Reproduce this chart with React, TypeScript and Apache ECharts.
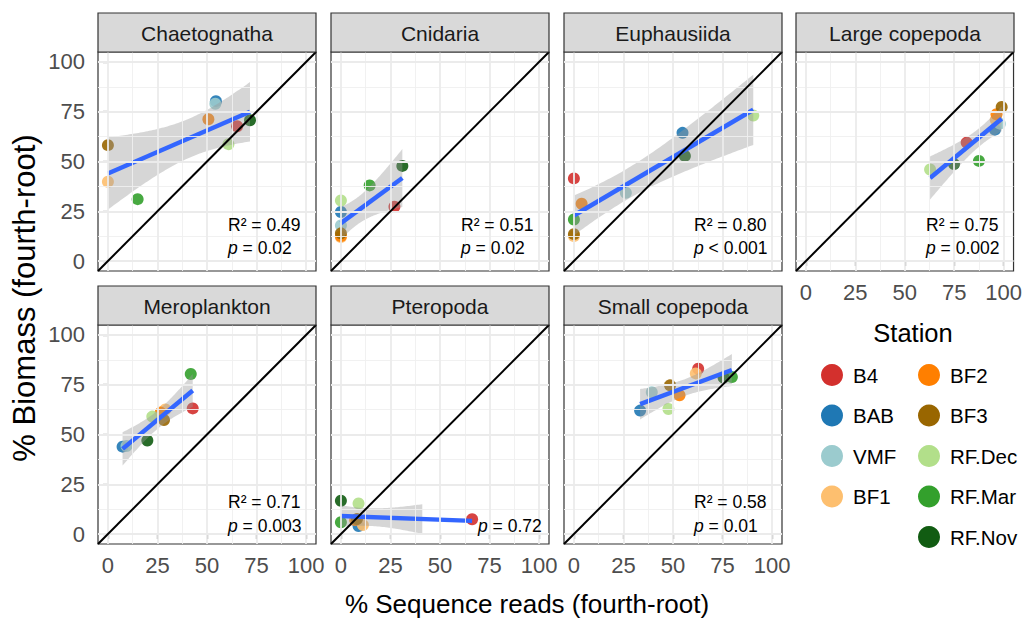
import React, { useEffect, useRef } from "react";
import * as echarts from "echarts";

// ---------- data ----------
const stations = ["B4", "BAB", "VMF", "BF1", "BF2", "BF3", "RF.Dec", "RF.Mar", "RF.Nov"];
const stationColors = ["#D3302D", "#1F78B4", "#9BCBCE", "#FDBF6F", "#FF7F00", "#996600", "#B2DF8A", "#33A02C", "#115C12"];
const panelNames = ["Chaetognatha", "Cnidaria", "Euphausiida", "Large copepoda", "Meroplankton", "Pteropoda", "Small copepoda"];

// % sequence reads (x) and % biomass (y), fourth-root, in station order
const chaetognathaReads = [65.2, 54.5, 54.2, 0, 50.7, 0, 60.8, 15.0, 71.7];
const chaetognathaBiomass = [67.7, 80.3, 79.0, 39.8, 71.2, 58.2, 58.7, 31.1, 70.7];
const cnidariaReads = [27.0, 0, 0, 0, 0, 0, 0, 14.5, 31.0];
const cnidariaBiomass = [27.3, 24.6, 17.9, 12.0, 12.5, 13.9, 30.4, 38.0, 47.8];
const euphausiidaReads = [0, 54.8, 26.2, 0, 3.9, 0, 90.5, 0, 56.0];
const euphausiidaBiomass = [41.5, 64.4, 34.3, 12.5, 28.8, 13.5, 73.1, 20.9, 52.8];
const largeCopepodaReads = [81.3, 95.6, 98.1, 96.0, 96.4, 99.0, 62.8, 87.5, 74.9];
const largeCopepodaBiomass = [59.5, 66.0, 69.0, 71.0, 73.7, 77.4, 46.0, 50.3, 48.7];
const meroplanktonReads = [42.8, 7.4, 9.4, 29.0, 26.6, 28.3, 22.4, 41.8, 19.9];
const meroplanktonBiomass = [63.1, 43.9, 44.2, 62.6, 61.0, 57.3, 59.0, 80.4, 47.0];
const pteropodaReads = [66.2, 8.9, null, 11.1, 7.2, 8.1, 8.9, 0, 0];
const pteropodaBiomass = [7.4, 4.0, null, 4.5, 7.0, 7.5, 15.4, 5.9, 16.7];
const smallCopepodaReads = [62.7, 33.4, 39.3, 61.5, 53.3, 48.5, 47.7, 79.7, 75.5];
const smallCopepodaBiomass = [83.0, 62.0, 71.2, 80.7, 69.7, 74.7, 62.8, 78.9, 78.6];

const r2Labels = ["0.49", "0.51", "0.80", "0.75", "0.71", null, "0.58"];
const pLabels = ["= 0.02", "= 0.02", "< 0.001", "= 0.002", "= 0.003", "= 0.72", "= 0.01"];
const tickValues = [0, 25, 50, 75, 100];
const minorValues = [12.5, 37.5, 62.5, 87.5];

const readsByPanel = [chaetognathaReads, cnidariaReads, euphausiidaReads, largeCopepodaReads, meroplanktonReads, pteropodaReads, smallCopepodaReads];
const biomassByPanel = [chaetognathaBiomass, cnidariaBiomass, euphausiidaBiomass, largeCopepodaBiomass, meroplanktonBiomass, pteropodaBiomass, smallCopepodaBiomass];

// ---------- layout ----------
const FONT = "Liberation Sans";
const colLeft = [98, 331, 564, 796];
const rowTop = [52, 325];
const W = 218;
const H = 219;
const STRIP = 39;
const TICK_FONT = 22;

const T95: Record<number, number> = { 1: 12.706, 2: 4.303, 3: 3.182, 4: 2.776, 5: 2.571, 6: 2.447, 7: 2.365, 8: 2.306, 9: 2.262, 10: 2.228 };

function fitLm(xs: (number | null)[], ys: (number | null)[]) {
  const pts = xs.map((x, k) => [x, ys[k]]).filter((p) => p[0] != null && p[1] != null) as number[][];
  const n = pts.length;
  const mx = pts.reduce((s, p) => s + p[0], 0) / n;
  const my = pts.reduce((s, p) => s + p[1], 0) / n;
  let sxx = 0, sxy = 0, syy = 0;
  pts.forEach((p) => {
    sxx += (p[0] - mx) ** 2;
    sxy += (p[0] - mx) * (p[1] - my);
    syy += (p[1] - my) ** 2;
  });
  const b = sxy / sxx;
  const a = my - b * mx;
  const sse = syy - b * sxy;
  const s = Math.sqrt(sse / (n - 2));
  const t = T95[n - 2] || 2.2;
  const xmin = Math.min(...pts.map((p) => p[0]));
  const xmax = Math.max(...pts.map((p) => p[0]));
  const upper: number[][] = [];
  const lower: number[][] = [];
  const N = 80;
  for (let k = 0; k < N; k++) {
    const x = xmin + ((xmax - xmin) * k) / (N - 1);
    const y = a + b * x;
    const se = s * Math.sqrt(1 / n + (x - mx) ** 2 / sxx);
    const lo = y - t * se;
    const hi = y + t * se;
    if (lo >= 0 && hi <= 100) {
      upper.push([x, hi]);
      lower.push([x, lo]);
    }
  }
  return { line: [[xmin, a + b * xmin], [xmax, a + b * xmax]], upper, lower };
}

function buildOption() {
  const grid: any[] = [];
  const xAxis: any[] = [];
  const yAxis: any[] = [];
  const series: any[] = [];
  const graphic: any[] = [];

  panelNames.forEach((name, i) => {
    const row = i < 4 ? 0 : 1;
    const left = colLeft[i % 4];
    const top = rowTop[row];
    const showX = i >= 3;
    const showY = i % 4 === 0;
    grid.push({ left, top, width: W, height: H, show: true, borderColor: "#333333", borderWidth: 1.2, backgroundColor: "#ffffff" });
    const tickStyle = { color: "#333333", width: 1.2 };
    xAxis.push({
      gridIndex: i, type: "value", min: -5, max: 105,
      axisLine: { show: false }, splitLine: { show: false },
      axisTick: { show: showX, customValues: tickValues, length: 5, lineStyle: tickStyle },
      axisLabel: { show: showX, customValues: tickValues, margin: 10, fontSize: TICK_FONT, color: "#4D4D4D", fontFamily: FONT },
    });
    yAxis.push({
      gridIndex: i, type: "value", min: -5, max: 105,
      axisLine: { show: false }, splitLine: { show: false },
      axisTick: { show: showY, customValues: tickValues, length: 5, lineStyle: tickStyle },
      axisLabel: { show: showY, customValues: tickValues, margin: 13, fontSize: TICK_FONT, color: "#4D4D4D", fontFamily: FONT },
    });

    const major = { color: "#EBEBEB", width: 1.8, type: "solid" };
    const minor = { color: "#EFEFEF", width: 0.9, type: "solid" };
    series.push({
      type: "line", xAxisIndex: i, yAxisIndex: i, data: [], silent: true, z: 1,
      markLine: {
        silent: true, symbol: "none", label: { show: false }, animation: false,
        data: [
          ...minorValues.map((v) => ({ xAxis: v, lineStyle: minor })),
          ...minorValues.map((v) => ({ yAxis: v, lineStyle: minor })),
          ...tickValues.map((v) => ({ xAxis: v, lineStyle: major })),
          ...tickValues.map((v) => ({ yAxis: v, lineStyle: major })),
        ],
      },
    });

    const reads = readsByPanel[i];
    const bio = biomassByPanel[i];
    stations.forEach((st, s) => {
      series.push({
        type: "scatter", name: st, xAxisIndex: i, yAxisIndex: i, z: 2, clip: false,
        symbol: "circle", symbolSize: 12,
        itemStyle: { color: stationColors[s], opacity: 0.9 },
        data: reads[s] == null || bio[s] == null ? [] : [[reads[s], bio[s]]],
      });
    });

    const fit = fitLm(reads, bio);
    if (fit.upper.length > 1) {
      series.push({
        type: "custom", xAxisIndex: i, yAxisIndex: i, z: 3, silent: true,
        data: [fit.upper[0]],
        renderItem: (_p: any, api: any) => {
          const pts = fit.upper.map((p) => api.coord(p)).concat(fit.lower.slice().reverse().map((p) => api.coord(p)));
          return { type: "polygon", shape: { points: pts }, style: { fill: "rgba(153,153,153,0.4)" } };
        },
      });
    }
    series.push({
      type: "line", xAxisIndex: i, yAxisIndex: i, z: 4, silent: true, showSymbol: false, symbol: "none",
      data: fit.line, lineStyle: { color: "#3366FF", width: 4.5 },
    });
    series.push({
      type: "line", xAxisIndex: i, yAxisIndex: i, z: 5, silent: true, showSymbol: false, symbol: "none",
      data: [[-5, -5], [105, 105]], lineStyle: { color: "#000000", width: 2 }, clip: true,
    });

    // strip
    graphic.push({
      type: "rect", shape: { x: left, y: top - STRIP, width: W, height: STRIP },
      style: { fill: "#D9D9D9", stroke: "#333333", lineWidth: 1.2 }, z: 10,
    });
    graphic.push({
      type: "text", x: left + W / 2, y: top - STRIP / 2 + 1, z: 11,
      style: { text: name, fontSize: 21, fontFamily: FONT, fill: "#1A1A1A", align: "center", verticalAlign: "middle" },
    });

    // annotations
    const bottom = top + H;
    const r2y = row === 0 ? bottom - 46 : bottom - 42;
    const py = row === 0 ? bottom - 23 : bottom - 18.5;
    if (r2Labels[i] != null) {
      graphic.push({
        type: "text", x: left + 130, y: r2y, z: 11,
        style: { text: "R\u00B2 = " + r2Labels[i], fontSize: 17.5, fontFamily: FONT, fill: "#000", align: "left", verticalAlign: "middle" },
      });
    }
    graphic.push({
      type: "text", x: left + (r2Labels[i] == null ? 147 : 130), y: py, z: 11,
      style: {
        text: "{i|p} " + pLabels[i], fontSize: 17.5, fontFamily: FONT, fill: "#000", align: "left", verticalAlign: "middle",
        rich: { i: { fontStyle: "italic", fontSize: 17.5, fontFamily: FONT, fill: "#000" } },
      },
    });
  });

  graphic.push({
    type: "text", x: 527, y: 604, z: 11,
    style: { text: "% Sequence reads (fourth-root)", fontSize: 26, fontFamily: FONT, fill: "#000", align: "center", verticalAlign: "middle" },
  });
  graphic.push({
    type: "text", x: 24, y: 298, rotation: Math.PI / 2, z: 11,
    style: { text: "% Biomass (fourth-root)", fontSize: 31, fontFamily: FONT, fill: "#000", align: "center", verticalAlign: "middle" },
  });
  graphic.push({
    type: "text", x: 913, y: 333, z: 11,
    style: { text: "Station", fontSize: 25.5, fontFamily: FONT, fill: "#000", align: "center", verticalAlign: "middle" },
  });

  const legendBase = {
    orient: "vertical", itemWidth: 22, itemHeight: 22, itemGap: 18.5, icon: "circle",
    selectedMode: false,
    itemStyle: { opacity: 1 },
    textStyle: { fontSize: 20.5, color: "#000", fontFamily: FONT, padding: [0, 0, 0, 5] },
  };

  return {
    animation: false,
    backgroundColor: "#ffffff",
    textStyle: { fontFamily: FONT },
    grid, xAxis, yAxis, series, graphic,
    legend: [
      { ...legendBase, data: stations.slice(0, 4), left: 816, top: 359 },
      { ...legendBase, data: stations.slice(4), left: 913, top: 359 },
    ],
  };
}

export default function App() {
  const ref = useRef<HTMLDivElement>(null);
  useEffect(() => {
    if (!ref.current) return;
    const chart = echarts.init(ref.current, null, { renderer: "svg" });
    chart.setOption(buildOption() as any);
    return () => chart.dispose();
  }, []);
  return <div ref={ref} style={{ position: "fixed", left: 0, top: 0, width: 1025, height: 619 }} />;
}
